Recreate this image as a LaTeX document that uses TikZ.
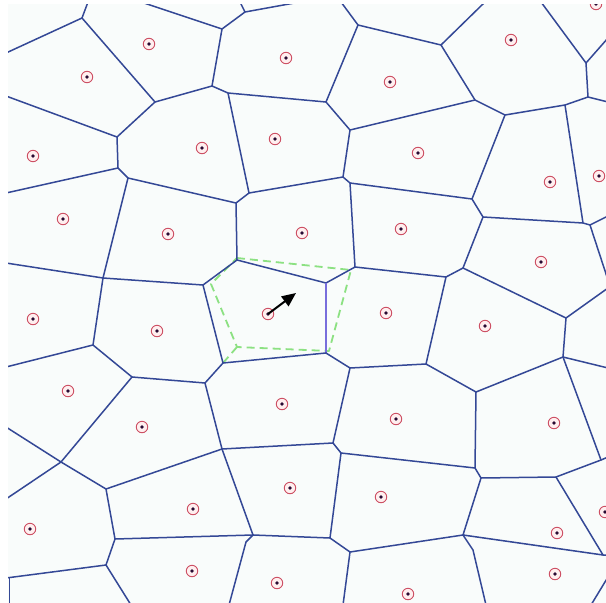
\documentclass[tikz,border=0pt]{standalone}
\usetikzlibrary{arrows.meta}
\definecolor{vblue}{RGB}{52,72,150}
\definecolor{vpurple}{RGB}{120,110,220}
\definecolor{bgc}{RGB}{249,252,251}
\definecolor{sitered}{RGB}{205,80,100}
\definecolor{sitedot}{RGB}{40,10,50}
\definecolor{dgreen}{RGB}{140,225,130}
\begin{document}
\begin{tikzpicture}[x=1pt,y=-1pt,
  edge/.style={draw=vblue, line width=1.5pt, line join=round, line cap=round},
  sitemark/.style={circle, draw=sitered, fill=pink!25, line width=0.9pt, minimum size=11.5pt, inner sep=0pt},
  sitecore/.style={circle, fill=sitedot, minimum size=3.6pt, inner sep=0pt},
  greendash/.style={draw=dgreen, line width=1.8pt, dash pattern=on 8pt off 5pt, line join=round}]
\useasboundingbox (0,0) rectangle (606,603);
\fill[white] (0,0) rectangle (606,603);
\fill[bgc] (8,4) rectangle (606,603);
\begin{scope}
\clip (8,4) rectangle (606,603);
% interior vertices
\coordinate (v1) at (82,18);
\coordinate (v2) at (155,102);
\coordinate (v3) at (117,137);
\coordinate (v4) at (212,86);
\coordinate (v5) at (222,29);
\coordinate (v6) at (245,12);
\coordinate (v7) at (228,93);
\coordinate (v8) at (118,168);
\coordinate (v9) at (128,178);
\coordinate (v10) at (249,193);
\coordinate (v11) at (236,203);
\coordinate (v12) at (358,25);
\coordinate (v13) at (441,45);
\coordinate (v14) at (475,100);
\coordinate (v15) at (326,102);
\coordinate (v16) at (350,130);
\coordinate (v17) at (505,115);
\coordinate (v18) at (565,105);
\coordinate (v19) at (588,97);
\coordinate (v20) at (586,63);
\coordinate (v21) at (343,177);
\coordinate (v22) at (350,183);
\coordinate (v62) at (472,199);
\coordinate (v24) at (483,217);
\coordinate (v25) at (583,223);
\coordinate (v26) at (590,225);
\coordinate (v27) at (463,268);
\coordinate (v28) at (446,277);
\coordinate (v29) at (566,318);
\coordinate (v30) at (563,357);
\coordinate (v31) at (476,392);
\coordinate (v32) at (426,364);
\coordinate (v33) at (355,267);
\coordinate (v34) at (326,283);
\coordinate (v35) at (326,353);
\coordinate (v36) at (350,368);
\coordinate (v37) at (103,278);
\coordinate (v38) at (203,285);
\coordinate (v39) at (237,260);
\coordinate (v40) at (223,363);
\coordinate (v41) at (205,383);
\coordinate (v42) at (132,377);
\coordinate (v43) at (93,345);
\coordinate (v44) at (61,462);
\coordinate (v45) at (106,489);
\coordinate (v46) at (222,449);
\coordinate (v47) at (253,535);
\coordinate (v48) at (115,539);
\coordinate (v49) at (106,565);
\coordinate (v50) at (246,542);
\coordinate (v51) at (333,443);
\coordinate (v52) at (341,453);
\coordinate (v53) at (475,468);
\coordinate (v54) at (481,478);
\coordinate (v55) at (556,477);
\coordinate (v56) at (601,460);
\coordinate (v57) at (603,555);
\coordinate (v58) at (463,535);
\coordinate (v59) at (330,538);
\coordinate (v60) at (350,552);
\coordinate (v61) at (473,550);
% border ends
\coordinate (t1) at (88,2);
\coordinate (t2) at (141,2);
\coordinate (t3) at (240,2);
\coordinate (t4) at (300,2);
\coordinate (t5) at (341,2);
\coordinate (t6) at (485,2);
\coordinate (t7) at (541,2);
\coordinate (l1) at (6,53);
\coordinate (l2) at (6,96);
\coordinate (l3) at (6,193);
\coordinate (l4) at (6,263);
\coordinate (l5) at (6,367);
\coordinate (l6) at (6,427);
\coordinate (l7) at (6,499);
\coordinate (l8) at (6,578);
\coordinate (r1) at (608,38);
\coordinate (r2) at (608,102);
\coordinate (r3) at (608,216);
\coordinate (r4) at (608,280);
\coordinate (r5) at (608,288);
\coordinate (r6) at (608,368);
\coordinate (r7) at (608,457);
\coordinate (r8) at (608,555);
\coordinate (r9) at (608,577);
\coordinate (bb1) at (131,605);
\coordinate (bb2) at (229,605);
\coordinate (bb3) at (343,605);
\coordinate (bb4) at (486,605);
\coordinate (bb5) at (591,605);
\coordinate (lb1) at (9.5,578);
\coordinate (lb2) at (9.5,605);
% green dashed cell
\coordinate (g1) at (237,258);
\coordinate (g2) at (351,270);
\coordinate (g3) at (329,351);
\coordinate (g4) at (237,347);
\coordinate (g5) at (211,284);
\draw[greendash] (g1) -- (g2) -- (g3) -- (g4) -- (g5) -- cycle;
\draw[greendash] (g4) -- (v40);
% edges
\draw[edge] (t1) -- (v1) -- (l1);
\draw[edge] (v1) -- (v2) -- (v3) -- (l2);
\draw[edge] (v2) -- (v4) -- (v5) -- (t2);
\draw[edge] (v5) -- (v6) -- (t3);
\draw[edge] (v6) -- (t4);
\draw[edge] (v4) -- (v7) -- (v15);
\draw[edge] (v7) -- (v10);
\draw[edge] (v3) -- (v8) -- (l3);
\draw[edge] (v8) -- (v9) -- (v11);
\draw[edge] (v9) -- (v37);
\draw[edge] (v10) -- (v11) -- (v39);
\draw[edge] (v10) -- (v21);
\draw[edge] (t5) -- (v12) -- (v13) -- (t6);
\draw[edge] (v13) -- (v14);
\draw[edge] (v12) -- (v15) -- (v16) -- (v14) -- (v17) -- (v18) -- (v19) -- (v20) -- (t7);
\draw[edge] (v20) -- (r1);
\draw[edge] (v19) -- (r2);
\draw[edge] (v18) -- (v25);
\draw[edge] (v17) -- (v62) -- (v24);
\draw[edge] (v22) -- (v62);
\draw[edge] (v16) -- (v21) -- (v22) -- (v33);
\draw[edge] (v24) -- (v25) -- (v26) -- (r3);
\draw[edge] (v26) -- (r4);
\draw[edge] (v24) -- (v27) -- (v28);
\draw[edge] (v27) -- (v29) -- (r5);
\draw[edge] (v29) -- (v30) -- (r6);
\draw[edge] (v30) -- (v31);
\draw[edge] (v30) -- (v56);
\draw[edge] (v31) -- (v53);
\draw[edge] (v31) -- (v32) -- (v28) -- (v33) -- (v34);
\draw[edge] (v39) -- (v34);
\draw[draw=vpurple, line width=1.5pt] (v34) -- (v35);
\draw[edge] (v35) -- (v40);
\draw[edge] (v35) -- (v36) -- (v32);
\draw[edge] (v36) -- (v51);
\draw[edge] (l4) -- (v37) -- (v38) -- (v39);
\draw[edge] (v38) -- (v40) -- (v41) -- (v42) -- (v43) -- (v37);
\draw[edge] (v43) -- (l5);
\draw[edge] (v42) -- (v44);
\draw[edge] (v41) -- (v46);
\draw[edge] (l6) -- (v44) -- (l7);
\draw[edge] (v44) -- (v45) -- (v46) -- (v51);
\draw[edge] (v46) -- (v47) -- (v59);
\draw[edge] (v47) -- (v50) -- (bb2);
\draw[edge] (v47) -- (v48) -- (v45);
\draw[edge] (v48) -- (v49) -- (l8);
\draw[edge] (v49) -- (bb1);
\draw[edge] (v51) -- (v52) -- (v53) -- (v54) -- (v55) -- (v56) -- (r7);
\draw[edge] (v55) -- (v57) -- (r8);
\draw[edge] (v54) -- (v58) -- (v57);
\draw[edge] (v58) -- (v60);
\draw[edge] (v52) -- (v59) -- (v60) -- (bb3);
\draw[edge] (v58) -- (v61) -- (bb4);
\draw[edge] (r9) -- (bb5);
\draw[edge] (lb1) -- (lb2);
% sites
\foreach \n/\p in {a/{(149,44)},b/{(87,77)},c/{(286,58)},d/{(390,82)},e/{(511,40)},f/{(596,4)},
  g/{(33,156)},h/{(202,148)},i/{(275,139)},j/{(418,153)},k/{(550,182)},l/{(599,176)},
  m/{(63,219)},n/{(168,234)},o/{(302,233)},p/{(401,229)},q/{(541,262)},
  r/{(33,319)},s/{(157,331)},t/{(268,314)},u/{(386,313)},w/{(485,326)},
  x/{(68,391)},y/{(142,427)},z/{(282,404)},aa/{(396,419)},ab/{(554,423)},
  ac/{(193,509)},ad/{(290,488)},ae/{(381,497)},af/{(557,533)},ag/{(605,512)},
  ah/{(30,529)},ai/{(192,571)},aj/{(277,583)},ak/{(408,594)},al/{(555,574)}}{
  \node[sitemark] (S\n) at \p {};
  \node[sitecore] at (S\n) {};
}
% arrow
\coordinate (atip) at (296,293);
\draw[line width=2pt, -{Triangle[length=14pt,width=12pt]}] (St.center) -- (atip);
\end{scope}
\end{tikzpicture}
\end{document}
